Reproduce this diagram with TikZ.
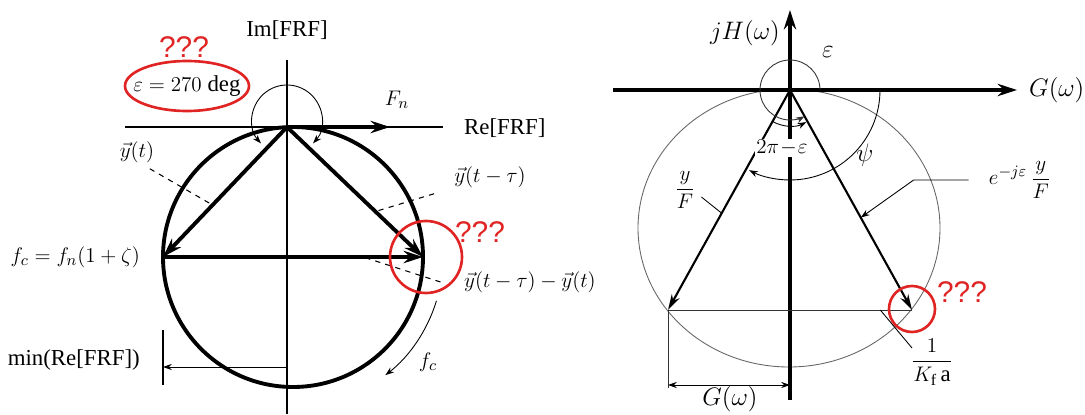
\documentclass[tikz,border=0pt]{standalone}
\usepackage{amsmath}
\usepackage{fontspec}
\setmainfont{Liberation Serif}
\newfontfamily\qmarkfont{Liberation Sans}
\usepackage{xcolor}
\definecolor{markRed}{HTML}{E02424}
\usepackage{tikz}
\usetikzlibrary{calc,arrows.meta}

\begin{document}
\begin{tikzpicture}[>={Stealth[length=11pt,width=7pt]},
    every node/.style={font=\fontsize{13}{15}\selectfont},
    axlabel/.style={font=\fontsize{15}{18}\selectfont},
    vec/.style={->, line width=2.2pt},
    ray/.style={->, line width=1.2pt, >={Stealth[length=9pt,width=5pt]}},
    thinarr/.style={line width=0.5pt, >={Stealth[length=5pt,width=3.5pt]}},
    leader/.style={dashed, line width=0.6pt},
    redmark/.style={draw=markRed, line width=1.5pt},
    qmarks/.style={text=markRed, font=\qmarkfont\fontsize{17}{20}\selectfont}]
  \useasboundingbox (0,0) rectangle (21.7,8.28);

  % ---- left: FRF circle ----
  \coordinate (O) at (5.74,5.74);
  \coordinate (C) at (5.86,3.14);
  \coordinate (L) at (3.26,3.14);
  \coordinate (R) at (8.46,3.14);
  % axes
  \draw[line width=0.6pt] (5.74,7.08) -- (5.74,0);
  \draw[line width=0.6pt] (2.5,5.74) -- (8.86,5.74);
  \node (im) at (5.74,7.68) {Im[FRF]};
  \node[anchor=west] (re) at (9.16,5.72) {Re[FRF]};
  % circle and vectors
  \draw[line width=2.2pt] (C) circle (2.6);
  \draw[vec] (O) -- (7.80,5.74);
  \node (fn) at (7.94,6.28) {$F_n$};
  \draw[vec] (O) -- (L);
  \draw[vec] (O) -- (R);
  \draw[vec] (L) -- (R);
  % phase angle
  \coordinate (E) at (5.74,5.88);
  \draw[thinarr,<->] (E) ++(-42:0.7) arc[start angle=-42, end angle=222, radius=0.7];
  \node (eps) at (3.74,6.56) {$\varepsilon = 270$ deg};
  \draw[redmark] (eps.center) ellipse (1.24 and 0.5);
  \node[qmarks] (q1) at (3.68,7.34) {???};
  % vector labels
  \node (yt) at (2.74,5.24) {$\vec{y}(t)$};
  \draw[leader] ([xshift=-6pt]yt.south east) -- ($(O)!0.6!(L)$);
  \node (ytau) at (9.80,4.74) {$\vec{y}(t-\tau)$};
  \draw[leader] ([xshift=-8pt]ytau.south west) -- ($(O)!0.65!(R)$);
  \node (ydiff) at (10.60,2.64) {$\vec{y}(t-\tau)-\vec{y}(t)$};
  \draw[leader] ([xshift=-10pt]ydiff.west) -- ($(L)!0.77!(R)$);
  \draw[redmark] (8.52,3.14) circle (0.72);
  \node[qmarks] (q2) at (9.60,3.64) {???};
  \node[anchor=east] (fc) at (2.92,3.14) {$f_c = f_n(1+\zeta)$};
  % rotation
  \draw[thinarr,->] (C) ++(-17:3.0) arc[start angle=-17, end angle=-52, radius=3.0];
  \node (fclbl) at (8.56,1.04) {$f_c$};
  % minimum real part
  \node[anchor=east] (minre) at (2.92,1.08) {min(Re[FRF])};
  \draw[line width=0.6pt] (3.26,1.68) -- (3.26,0.58);
  \draw[thinarr,->] (5.74,0.94) -- (3.26,0.94);

  % ---- right: G / jH plane ----
  \coordinate (Q) at (15.80,6.48);
  \coordinate (A) at (13.36,2.08);
  \coordinate (B) at (18.24,2.08);
  \draw[black!60, line width=0.5pt] (15.78,3.72) ellipse (3.02 and 2.78);
  \draw[->, line width=2.3pt] (12.26,6.48) -- (20.34,6.48);
  \draw[->, line width=2.3pt] (15.80,0.28) -- (15.80,8.08);
  \node[axlabel, anchor=west] (gw) at (20.46,6.48) {$G(\omega)$};
  \node[axlabel, anchor=east] (jh) at (15.72,7.62) {$jH(\omega)$};
  \draw[ray] (Q) -- (A);
  \draw[ray] (Q) -- (B);
  \draw[line width=0.5pt, black!80] (A) -- (B);
  \draw[line width=0.5pt, black!80] (A) -- (13.36,0.52);
  \draw[thinarr,<->] (13.36,0.58) -- (15.80,0.58);
  \node[axlabel, anchor=south, inner sep=1pt] (gwdim) at (14.60,0.0) {$G(\omega)$};
  % angles
  \draw[thinarr,->, black!80] (Q) ++(0:0.6) arc[start angle=0, end angle=299, radius=0.6];
  \draw[thinarr,->] (Q) ++(-119:0.72) arc[start angle=-119, end angle=-63, radius=0.72];
  \draw[thinarr,->] (Q) ++(0:1.8) arc[start angle=0, end angle=-117, radius=1.8];
  \node[fill=white, inner sep=1pt] (twopi) at (15.64,5.32) {$2\pi\!-\!\varepsilon$};
  \node[axlabel] (epsR) at (16.56,7.24) {$\varepsilon$};
  \node[axlabel] (psi) at (17.30,5.18) {$\psi$};
  % ray labels
  \node (yF) at (13.70,4.48) {$\dfrac{y}{F}$};
  \draw[line width=0.5pt] ([yshift=-4pt]yF.east) -- ($(Q)!0.56!(A)$);
  \node (eyF) at (20.40,4.68) {$e^{-j\varepsilon}\,\dfrac{y}{F}$};
  \draw[thinarr,->] ([xshift=-8pt]eyF.west) -- ++(-1.1,0) -- ($(Q)!0.58!(B)$);
  \node (kfa) at (18.64,1.04) {$\dfrac{1}{K_{\mathrm f}\,\mathrm a}$};
  \draw[line width=0.5pt] ($(A)!0.87!(B)$) -- ($(kfa.center)+(-0.4,0.28)$);
  \draw[redmark] (18.24,2.10) circle (0.46);
  \node[qmarks] (q3) at (19.24,2.44) {???};
\end{tikzpicture}
\end{document}
